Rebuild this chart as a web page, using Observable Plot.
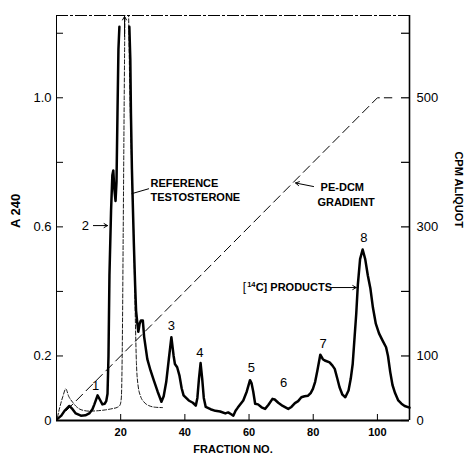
<!DOCTYPE html>
<html><head><meta charset="utf-8">
<script src="https://cdn.jsdelivr.net/npm/d3@7"></script>
<script src="https://cdn.jsdelivr.net/npm/@observablehq/plot@0.6"></script>
<style>body{margin:0;background:#fff} svg{display:block}</style>
</head><body><div id="chart"></div>
<script>
// [14C] products trace (CPM per aliquot), null = off-scale gap
const productFraction = [0.3,1.5,2.5,4.0,5.0,6.0,7.6,9.0,10.2,11.2,11.8,12.8,13.5,14.3,15.0,15.5,15.9,16.2,16.5,17.0,17.4,17.7,18.0,18.4,18.7,19.0,19.3,19.6,21.0,22.7,23.0,23.2,23.5,23.7,24.1,24.5,24.8,25.2,25.5,25.9,26.3,26.9,27.3,28.3,29.3,30.3,31.5,32.7,33.4,34.2,35.0,35.8,36.5,36.9,37.6,38.3,39.0,39.6,41.2,42.5,43.4,43.9,44.4,44.9,45.4,45.9,46.5,48.0,49.5,51.0,52.6,53.5,54.3,55.1,55.8,56.5,58.2,59.3,60.3,60.8,61.3,61.9,62.8,63.9,65.0,66.0,67.3,68.0,69.1,70.5,72.2,73.2,74.3,75.3,76.3,77.3,78.4,79.2,79.9,80.6,81.3,82.2,83.0,83.6,85.1,86.0,86.7,87.5,88.2,89.1,90.0,91.0,91.7,92.3,92.9,93.4,93.9,94.6,95.4,96.2,97.0,97.8,98.6,99.5,100.5,101.5,102.7,103.3,104.0,104.7,105.5,106.5,107.5,108.5,110];
const productCPM = [2.5,7.5,15,22.5,17.5,11,7.5,8,11,17.5,25,39,32.5,25,26,30,41.5,100,225,325,380,387.5,360,340,370,475,575,610,null,610,560,475,390,350,275,210,170,150,137.5,150,155,155,130,95,77.5,62.5,45,29,37.5,60,95,129,100,87.5,82.5,70,50,39,31,27.5,23,35,65,89,65,35,21,17.5,15,14,11,12.5,10,7.5,15,20,31,45,62.5,57.5,45,26,25,20.5,18,24,33.5,32.5,27.5,22.5,18,21,27,30,36,37.5,38.5,42.5,49,60,77.5,102,95,93,90,85,80,65,51.5,40,36,46.5,65,87.5,130,165,210,250,265,250,225,205,175,150,135,125,113.5,100,75,55,42.5,31,26,22.5,20];

// Reference testosterone (A240)
const refFraction = [0.3,1.0,2.0,2.9,3.8,5.0,6.0,7.1,8.5,10.2,12.5,15.3,17.5,19.0,19.8,20.2,20.5,20.8,21.1,21.5,22.0,22.4,22.8,23.4,24.0,24.3,24.6,24.9,25.4,26.2,27.2,28.8,30.9,33.0];
const refA240 = [0.01,0.04,0.075,0.098,0.075,0.057,0.045,0.036,0.031,0.029,0.03,0.033,0.037,0.041,0.048,0.07,0.227,0.6,1.0,1.4,1.5,1.3,1.05,0.8,0.6,0.45,0.3,0.18,0.11,0.075,0.058,0.046,0.041,0.04];

// PE-DCM gradient (% of final)
const gradientFraction = [0, 100, 104.5];
const gradientPct = [0, 100, 100];

const cpmPerA = 500;
const xDomain = [0, 110];
const yDomain = [0, 1.255];
const leftTicks = [0, 0.2, 0.4, 0.6, 0.8, 1.0, 1.2];
const leftTickLabels = ["0", "0.2", "", "0.6", "", "1.0", ""];
const rightTicks = [0, 100, 200, 300, 400, 500, 600];
const rightTickLabels = ["0", "100", "", "300", "", "500", ""];
const xTicks = [20, 40, 60, 80, 100];

const peakNames = ["1", "2", "3", "4", "5", "6", "7", "8"];
const peakLabelX = [12.15, 9.0, 35.8, 44.7, 60.7, 70.8, 83.1, 95.8];
const peakLabelY = [0.108, 0.604, 0.294, 0.209, 0.162, 0.116, 0.238, 0.566];

const noteTexts = ["REFERENCE", "TESTOSTERONE", "PE-DCM", "GRADIENT"];
const noteX = [29.3, 29.3, 82.3, 81.3];
const noteY = [0.734, 0.691, 0.722, 0.676];
// "[14C] PRODUCTS" label anchor
const productsLabel = {x: 58.0, y: 0.412, open: "[", sup: "14", rest: "C] PRODUCTS"};

const arrowX1 = [11.5, 80.1, 85.7, 21.2];
const arrowY1 = [0.604, 0.725, 0.412, 1.19];
const arrowX2 = [15.9, 74.5, 93.4, 21.2];
const arrowY2 = [0.604, 0.736, 0.412, 1.252];
const leaderX = [28.7, 23.5];
const leaderY = [0.718, 0.703];

const products = productFraction.map((f, i) => ({f, a: productCPM[i] == null ? NaN : productCPM[i] / cpmPerA}));
const reference = refFraction.map((f, i) => ({f, a: refA240[i]}));
const gradient = gradientFraction.map((f, i) => ({f, a: gradientPct[i] / 100}));
const peaks = peakNames.map((t, i) => ({t, x: peakLabelX[i], y: peakLabelY[i]}));
const notes = noteTexts.map((t, i) => ({t, x: noteX[i], y: noteY[i]}));
const arrows = arrowX1.map((x1, i) => ({x1, y1: arrowY1[i], x2: arrowX2[i], y2: arrowY2[i]}));
const leader = leaderX.map((x, i) => ({x, y: leaderY[i]}));

const W = 467, H = 458, mL = 56, mR = 58, mT = 15, mB = 38;
const fw = W - mL - mR, fh = H - mT - mB;
const font = "'Liberation Sans', Arial, Helvetica, sans-serif";

const chart = Plot.plot({
  width: W, height: H,
  marginLeft: mL, marginRight: mR, marginTop: mT, marginBottom: mB,
  style: {fontFamily: font, background: "#fff", color: "#000"},
  x: {domain: xDomain},
  y: {domain: yDomain},
  marks: [
    // axes labels
    Plot.axisY({ticks: leftTicks, tickSize: 0, tickPadding: 5, fontSize: 13, label: null,
      tickFormat: d => leftTickLabels[leftTicks.indexOf(d)]}),
    Plot.axisY({anchor: "right", ticks: rightTicks.map(c => c / cpmPerA), tickSize: 0, tickPadding: 7, fontSize: 13, label: null,
      tickFormat: d => rightTickLabels[rightTicks.indexOf(Math.round(d * cpmPerA))]}),
    Plot.axisX({ticks: xTicks, tickSize: 0, tickPadding: 8, fontSize: 11, fontWeight: "bold", label: null}),
    // inward ticks
    Plot.tickY(leftTicks, {y: d => d, insetRight: fw - 7, stroke: "#000", strokeWidth: 1}),
    Plot.tickY(rightTicks, {y: d => d / cpmPerA, insetLeft: fw - 8, stroke: "#000", strokeWidth: 1.2}),
    Plot.tickX(xTicks, {x: d => d, insetTop: fh - 6, stroke: "#000", strokeWidth: 1}),
    // frame
    Plot.ruleY([yDomain[1]], {stroke: "#000", strokeWidth: 1, strokeDasharray: "12,2,3,2"}),
    Plot.ruleX([xDomain[0]], {stroke: "#000", strokeWidth: 1}),
    Plot.ruleX([xDomain[1]], {stroke: "#000", strokeWidth: 1.6}),
    Plot.ruleY([yDomain[0]], {stroke: "#000", strokeWidth: 1.8}),
    // gradient
    Plot.line(gradient, {x: "f", y: "a", stroke: "#000", strokeWidth: 1, strokeDasharray: "9,5"}),
    // reference testosterone
    Plot.line(reference, {x: "f", y: "a", stroke: "#000", strokeWidth: 0.9, strokeDasharray: "4,2", clip: true, curve: "monotone-x"}),
    // products
    Plot.line(products, {x: "f", y: "a", stroke: "#000", strokeWidth: 2.5, strokeLinejoin: "round", strokeLinecap: "round"}),
    // annotations
    Plot.text(peaks, {x: "x", y: "y", text: "t", fontSize: 13, fill: "#000"}),
    Plot.text(notes, {x: "x", y: "y", text: "t", fontSize: 11, fontWeight: "bold", textAnchor: "start", fill: "#000"}),
    Plot.text([productsLabel], {x: "x", y: "y", text: "open", fontSize: 12, textAnchor: "start", fill: "#000"}),
    Plot.text([productsLabel], {x: "x", y: "y", text: "sup", dx: 4.5, dy: -3, fontSize: 7.5, fontWeight: "bold", textAnchor: "start", fill: "#000"}),
    Plot.text([productsLabel], {x: "x", y: "y", text: "rest", dx: 13, fontSize: 11, fontWeight: "bold", textAnchor: "start", fill: "#000"}),
    Plot.arrow(arrows, {x1: "x1", y1: "y1", x2: "x2", y2: "y2", stroke: "#000", strokeWidth: 1, headLength: 6}),
    Plot.line(leader, {x: "x", y: "y", stroke: "#000", strokeWidth: 1}),
    // axis titles
    Plot.text(["A 240"], {frameAnchor: "left", dx: -41, dy: 10, rotate: -90, fontSize: 13, fontWeight: "bold", fill: "#000"}),
    Plot.text(["CPM ALIQUOT"], {frameAnchor: "right", dx: 49, dy: 10, rotate: 90, fontSize: 11, fontWeight: "bold", fill: "#000"}),
    Plot.text(["FRACTION NO."], {frameAnchor: "bottom", dy: 32, fontSize: 11, fontWeight: "bold", fill: "#000"})
  ]
});
document.getElementById("chart").appendChild(chart);
</script>
</body></html>
